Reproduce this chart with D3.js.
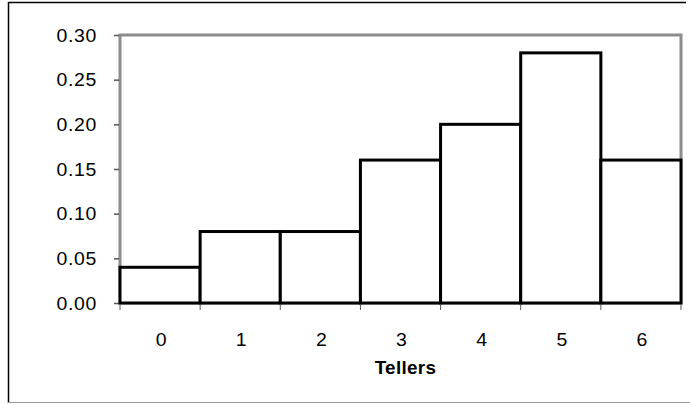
<!DOCTYPE html>
<html><head><meta charset="utf-8">
<script src="https://cdn.jsdelivr.net/npm/d3@7"></script>
<style>html,body{margin:0;padding:0;background:#fff;}svg{display:block;}</style>
</head><body>
<script>
const categories = ["0","1","2","3","4","5","6"];
const values = [0.04, 0.08, 0.08, 0.16, 0.20, 0.28, 0.16];
const yTicks = [0, 0.05, 0.10, 0.15, 0.20, 0.25, 0.30];
const xTitle = "Tellers";

(function(){
const W = 690, H = 404;
const svg = d3.select("body").append("svg").attr("width", W).attr("height", H);

// outer chart frame
svg.append("line").attr("x1",8.5).attr("y1",2.5).attr("x2",686).attr("y2",2.5).attr("stroke","#000").attr("stroke-width",1.5);
svg.append("line").attr("x1",8.5).attr("y1",2).attr("x2",8.5).attr("y2",403).attr("stroke","#000").attr("stroke-width",1.5);
svg.append("line").attr("x1",8).attr("y1",402.5).attr("x2",690).attr("y2",402.5).attr("stroke","#999").attr("stroke-width",1);

const pL = 120, pR = 681, pT = 35, pB = 303;
const x = d3.scaleBand().domain(categories).range([pL, pR]).padding(0);
const y = d3.scaleLinear().domain([0, 0.30]).range([pB, pT]);

// plot area border (gray)
svg.append("rect").attr("x", pL).attr("y", pT).attr("width", pR-pL).attr("height", pB-pT)
  .attr("fill","none").attr("stroke","#8c8c8c").attr("stroke-width",3);

// y ticks
const yAxis = d3.axisLeft(y).tickValues(yTicks).tickSize(5).tickFormat("");
const gy = svg.append("g").attr("transform",`translate(${pL-1},0)`).call(yAxis);
gy.select(".domain").remove();
gy.selectAll(".tick line").attr("stroke","#555").attr("stroke-width",1.5);

// y labels (slightly stretched like the original)
svg.append("g").selectAll("text").data(yTicks).join("text")
  .attr("transform", d => `translate(97,${y(d)+6.5}) scale(1.08,1)`)
  .attr("text-anchor","end")
  .attr("font-family","Liberation Sans, Arial, sans-serif")
  .attr("font-size",18)
  .attr("letter-spacing","0.6")
  .attr("fill","#000")
  .text(d => d3.format(".2f")(d));

// bars
svg.append("g").selectAll("rect").data(values).join("rect")
  .attr("x",(d,i)=>x(categories[i]))
  .attr("y",d=>y(d))
  .attr("width",x.bandwidth())
  .attr("height",d=>pB-y(d))
  .attr("fill","#fff").attr("stroke","#000").attr("stroke-width",3);

// x ticks at boundaries
const bounds = categories.map(c=>x(c)).concat([x(categories[categories.length-1])+x.bandwidth()]);
svg.append("g").selectAll("line").data(bounds).join("line")
  .attr("x1",d=>d).attr("x2",d=>d).attr("y1",pB+1).attr("y2",pB+7)
  .attr("stroke","#555").attr("stroke-width",1);

// x labels
svg.append("g").selectAll("text").data(categories).join("text")
  .attr("transform", d => `translate(${x(d)+x.bandwidth()/2+1},${345.5}) scale(1.08,1)`)
  .attr("text-anchor","middle")
  .attr("font-family","Liberation Sans, Arial, sans-serif")
  .attr("font-size",18)
  .attr("fill","#000")
  .text(d=>d);

// x title
svg.append("text")
  .attr("transform", `translate(${(pL+pR)/2+5},${373.5}) scale(1.05,1)`)
  .attr("text-anchor","middle")
  .attr("font-family","Liberation Sans, Arial, sans-serif")
  .attr("font-size",18).attr("font-weight","bold")
  .attr("letter-spacing","0.3")
  .attr("fill","#000")
  .text(xTitle);
})();
</script>
</body></html>
